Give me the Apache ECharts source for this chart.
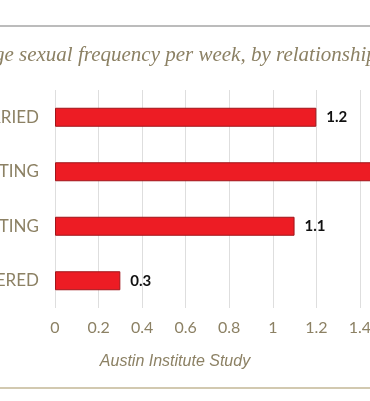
<!DOCTYPE html>
<html>
<head>
<meta charset="utf-8">
<script src="https://cdn.jsdelivr.net/npm/echarts@6/dist/echarts.min.js"></script>
<style>html,body{margin:0;padding:0;background:#fff;}#c{width:370px;height:401px;}</style>
</head>
<body>
<div id="c"></div>
<script>
var titleText = 'Average sexual frequency per week, by relationship status';
var sourceText = 'Austin Institute Study';
var categories = ['MARRIED', 'COHABITING', 'DATING', 'UNPARTNERED'];
var values = [1.2, 1.6, 1.1, 0.3];
var xMin = 0, xMax = 1.8, xStep = 0.2;

var chart = echarts.init(document.getElementById('c'), null, {renderer: 'canvas'});
var textColor = '#8c8164';
chart.setOption({
  backgroundColor: '#ffffff',
  animation: false,
  grid: {left: 55, top: 90, width: 392, height: 218, containLabel: false, outerBoundsMode: 'none'},
  xAxis: {
    type: 'value', min: xMin, max: xMax, interval: xStep,
    axisLine: {show: false}, axisTick: {show: false},
    splitLine: {show: true, lineStyle: {color: '#dedede', width: 1}},
    axisLabel: {color: textColor, fontFamily: 'Lato', fontSize: 16, margin: 12,
      formatter: function (v) { return String(Math.round(v * 10) / 10); }}
  },
  yAxis: {
    type: 'category', data: categories, inverse: true,
    axisLine: {show: false}, axisTick: {show: false},
    axisLabel: {color: textColor, fontFamily: 'Lato', fontSize: 17, margin: 16}
  },
  series: [{
    type: 'bar', data: values, barWidth: 19,
    itemStyle: {color: '#ed1c24', borderColor: '#a0151a', borderWidth: 1},
    label: {show: true, position: 'right', distance: 10, color: '#111',
      fontFamily: 'Lato', fontWeight: 'bold', fontSize: 15}
  }],
  graphic: [
    {type: 'line', shape: {x1: 0, y1: 26, x2: 370, y2: 26}, style: {stroke: '#bcbcbc', lineWidth: 2}},
    {type: 'line', shape: {x1: 0, y1: 388, x2: 370, y2: 388}, style: {stroke: '#d2c9b0', lineWidth: 2}},
    {type: 'text', x: -55, y: 55, style: {text: titleText, fill: textColor,
      font: 'italic 21px "Liberation Serif"', textAlign: 'left', textVerticalAlign: 'middle'}},
    {type: 'text', x: 175, y: 362, style: {text: sourceText, fill: textColor,
      font: 'italic 16px "Liberation Sans"', textAlign: 'center', textVerticalAlign: 'middle'}}
  ]
});
</script>
</body>
</html>
